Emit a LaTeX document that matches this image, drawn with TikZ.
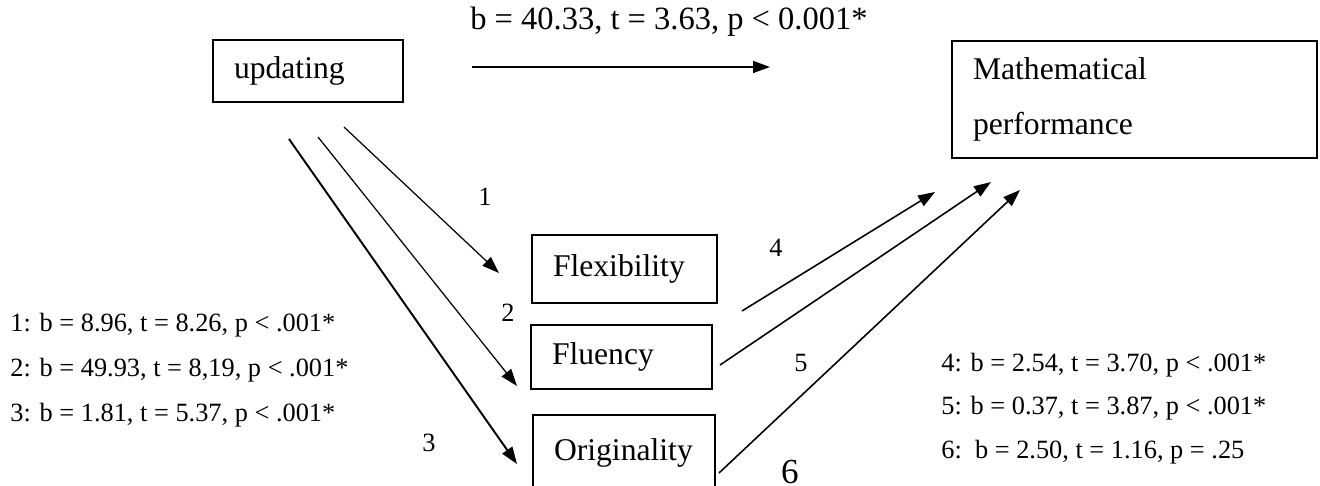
\documentclass[tikz,border=0pt]{standalone}
\usepackage{fontspec}
\setmainfont{Liberation Serif}
\usetikzlibrary{arrows.meta}

\begin{document}
\begin{tikzpicture}[
    x=0.02cm, y=-0.02cm,
    box/.style={rectangle, draw, line width=0.9pt, inner xsep=0.42cm, inner ysep=0pt, align=left, font=\fontsize{18}{31}\selectfont},
    arrow/.style={-{Triangle[length=0.34cm, width=0.24cm]}, line width=0.7pt},
    stat/.style={anchor=base west, inner sep=0pt, font=\fontsize{15}{18}\selectfont},
    num/.style={inner sep=0pt, font=\fontsize{15}{18}\selectfont}
]
\useasboundingbox (0,0) rectangle (1320,486);

% boxes
\node[box, text width=2.96cm, minimum height=1.24cm] (upd) at (308,71) {updating};
\node[box, text width=6.46cm, minimum height=2.34cm] (math) at (1134.5,99.5) {Mathematical\\performance};
\node[box, text width=2.86cm, minimum height=1.36cm] (flex) at (624.5,269) {Flexibility};
\node[box, text width=2.78cm, minimum height=1.28cm] (flu) at (621.5,357) {Fluency};
\node[box, text width=2.80cm, minimum height=1.50cm] (orig) at (624,452.5) {Originality};

% direct path
\node[anchor=base west, inner sep=0pt, font=\fontsize{18.5}{22}\selectfont] (direct) at (470,30) {b = 40.33, t = 3.63, p < 0.001*};
\coordinate (d0) at (472,67);
\coordinate (d1) at (770,67);
\draw[arrow, line width=0.9pt] (d0) -- (d1);

% paths a
\coordinate (u1) at (344,127);
\coordinate (u2) at (318,137);
\coordinate (u3) at (289,139);
\coordinate (f1) at (499,273);
\coordinate (f2) at (517,386);
\coordinate (f3) at (517,464);
\draw[arrow] (u1) -- (f1);
\draw[arrow] (u2) -- (f2);
\draw[arrow, line width=1.1pt] (u3) -- (f3);

% paths b
\coordinate (m4) at (742,311);
\coordinate (m5) at (720,365);
\coordinate (m6) at (719,473);
\coordinate (p4) at (935,192);
\coordinate (p5) at (991,182);
\coordinate (p6) at (1020,190);
\draw[arrow, line width=0.9pt] (m4) -- (p4);
\draw[arrow, line width=0.9pt] (m5) -- (p5);
\draw[arrow, line width=0.9pt] (m6) -- (p6);

% path numbers
\node[num] (n1) at (485,197) {1};
\node[num] (n2) at (508,313) {2};
\node[num] (n3) at (429,443) {3};
\node[num] (n4) at (776,248) {4};
\node[num] (n5) at (801,363) {5};
\node[anchor=base, inner sep=0pt, font=\fontsize{20}{24}\selectfont] (n6) at (790,484) {6};

% coefficients
\node[stat] (s1) at (10,332) {1: b = 8.96, t = 8.26, p < .001*};
\node[stat] (s2) at (10,377) {2: b = 49.93, t = 8,19, p < .001*};
\node[stat] (s3) at (10,422) {3: b = 1.81, t = 5.37, p < .001*};
\node[stat] (s4) at (941,372) {4: b = 2.54, t = 3.70, p < .001*};
\node[stat] (s5) at (941,415) {5: b = 0.37, t = 3.87, p < .001*};
\node[stat] (s6) at (941,459) {6:\, b = 2.50, t = 1.16, p = .25};
\end{tikzpicture}
\end{document}
